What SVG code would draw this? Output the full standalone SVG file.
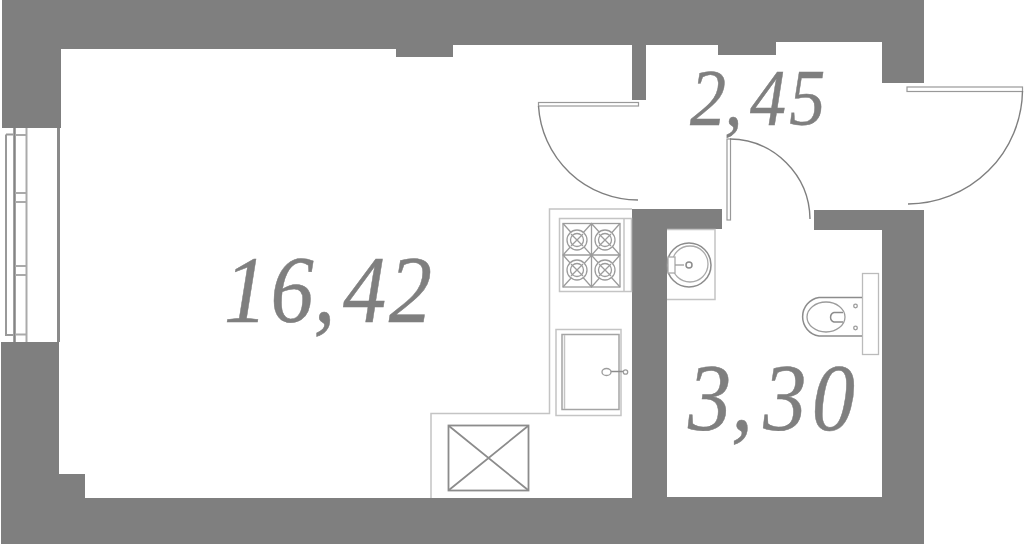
<svg xmlns="http://www.w3.org/2000/svg" width="1024" height="544" viewBox="0 0 1024 544">
<style>
.w{fill:#7f7f7f}
.t{font-family:"Liberation Serif",serif;font-style:italic;fill:#7f7f7f;stroke:#7f7f7f;stroke-width:.5}
.l{fill:none;stroke:#c4c4c4;stroke-width:1.500}
.d{fill:none;stroke:#8c8c8c;stroke-width:1.500}
.m{fill:none;stroke:#9c9c9c;stroke-width:1.300}
.g{fill:none;stroke:#7f7f7f;stroke-width:1.400}
</style>
<rect width="1024" height="544" fill="#fff"/>
<path class="w" d="M2 0H924V83H882V42H776V55H718V45H646V100H632V45H453V57H396V49H61V128H2ZM1 342H59V474H85V498H632V209H722V229H667V497H882V230H814V210H924V544H1Z"/>
<g id="window">
<path fill="none" stroke="#8a8a8a" stroke-width="3" d="M58.500 128V342"/>
<path fill="none" stroke="#999" stroke-width="2" d="M6 134.500H13M6 134.500V335H13"/>
<path fill="none" stroke="#858585" stroke-width="2.500" d="M14.500 128V342"/>
<path fill="none" stroke="#aaa" stroke-width="2" d="M26.500 128V342"/>
<path fill="none" stroke="#aaa" stroke-width="2" d="M15 135H26M15 193H26M15 202H26M15 266H26M15 275H26M15 334.500H26"/>
</g>
<g id="doors">
<rect x="538.500" y="102.500" width="100" height="3.500" fill="#fff" stroke="#999" stroke-width="1.200"/>
<path class="g" d="M538.500 106A100 100 0 0 0 638 200"/>
<rect x="907" y="87" width="115.500" height="4.500" fill="#fff" stroke="#999" stroke-width="1.200"/>
<path class="g" d="M1022.500 91A115 115 0 0 1 908 204"/>
<rect x="727" y="139" width="3.500" height="81" fill="#fff" stroke="#999" stroke-width="1.200"/>
<path class="g" d="M730 139A81 81 0 0 1 810 219"/>
</g>
<g id="kitchen">
<path class="l" d="M632 209H549.500V413.500H431V498"/>
<rect x="559.500" y="218.500" width="72" height="73" class="l"/>
<path class="l" d="M624 219V291"/>
<rect x="563" y="223.500" width="57" height="63.500" class="m"/>
<path class="m" d="M563 223.500L620 287M620 223.500L563 287M591.500 223.500V287M563 255H620M591.500 223.500L563 255L591.500 287L620 255Z"/>
<g class="m">
<circle cx="577" cy="240" r="10" fill="#fff"/><circle cx="577" cy="240" r="6.500"/><path d="M571 234L583 246M583 234L571 246"/>
<circle cx="605" cy="240" r="10" fill="#fff"/><circle cx="605" cy="240" r="6.500"/><path d="M599 234L611 246M611 234L599 246"/>
<circle cx="577" cy="270" r="10" fill="#fff"/><circle cx="577" cy="270" r="6.500"/><path d="M571 264L583 276M583 264L571 276"/>
<circle cx="605" cy="270" r="10" fill="#fff"/><circle cx="605" cy="270" r="6.500"/><path d="M599 264L611 276M611 264L599 276"/>
</g>
<rect x="556" y="329.500" width="65" height="86" class="l"/>
<rect x="562" y="334.500" width="57" height="75" fill="none" stroke="#a4a4a4" stroke-width="1.500"/>
<path class="l" d="M564.500 335V409"/>
<path class="d" d="M611 371.500H623"/>
<ellipse cx="606.500" cy="372" rx="4.500" ry="3.500" class="m"/>
<circle cx="625.500" cy="372" r="2.200" class="m"/>
<rect x="448.500" y="425.500" width="80" height="65" fill="none" stroke="#8c8c8c" stroke-width="1.800"/>
<path fill="none" stroke="#8c8c8c" stroke-width="1.800" d="M449 426L528 490M528 426L449 490"/>
</g>
<g id="bath">
<path class="l" d="M667 229.500H715V299.500H667"/>
<circle cx="689" cy="265" r="22" class="d"/>
<circle cx="690" cy="264" r="18" fill="#fff" stroke="#aaa" stroke-width="1.300"/>
<rect x="668" y="257" width="7" height="16" fill="#fff" stroke="#aaa" stroke-width="1.300"/>
<path class="m" d="M675 265H684"/>
<circle cx="689" cy="265" r="3" class="d"/>
<rect x="862.500" y="273.500" width="16" height="81" fill="#fff" stroke="#bbb" stroke-width="1.300"/>
<path class="d" d="M862 297.500H819A19.500 19.500 0 0 0 819 336H862"/>
<ellipse cx="826" cy="317" rx="19" ry="15" class="m"/>
<path class="d" d="M843 312.500H834A5 5 0 0 0 834 322H843"/>
<circle cx="855.500" cy="306" r="1.800" class="m"/><circle cx="855.500" cy="328" r="1.800" class="m"/>
</g>
<g id="labels">
<text class="t" transform="scale(.9 1)" x="248.900 300.500 348.500 381.100 432" y="322" font-size="96">16,42</text>
<text class="t" transform="scale(.9 1)" x="766.700 805 833.300 877" y="125" font-size="80">2,45</text>
<text class="t" transform="scale(.9 1)" x="764.400 812.500 848 902" y="430" font-size="96">3,30</text>
</g>
</svg>
